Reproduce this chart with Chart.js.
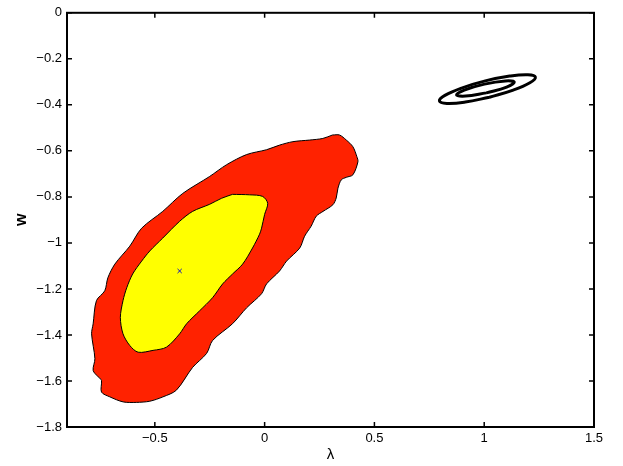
<!DOCTYPE html>
<html><head><meta charset="utf-8">
<script src="https://cdn.jsdelivr.net/npm/chart.js@4.4.1/dist/chart.umd.min.js"></script>
<style>html,body{margin:0;padding:0;background:#fff}#wrap{width:623px;height:466px}</style>
</head><body><div id="wrap"><canvas id="c" width="623" height="466"></canvas></div>
<script>
const xTicks = [-0.5, 0, 0.5, 1, 1.5];
const yTicks = [0, -0.2, -0.4, -0.6, -0.8, -1, -1.2, -1.4, -1.6, -1.8];

// outer (95%) confidence region, red
const regionOuter = [
  [0.309,-0.531],[0.341,-0.531],[0.372,-0.553],[0.402,-0.582],[0.420,-0.625],[0.425,-0.647],
  [0.402,-0.704],[0.372,-0.715],[0.349,-0.726],[0.334,-0.762],[0.326,-0.805],[0.311,-0.834],
  [0.266,-0.863],[0.235,-0.884],[0.212,-0.927],[0.182,-0.971],[0.160,-1.022],[0.100,-1.079],
  [0.068,-1.122],[0.009,-1.178],[-0.014,-1.221],[-0.082,-1.282],[-0.146,-1.351],[-0.237,-1.424],
  [-0.264,-1.480],[-0.328,-1.541],[-0.402,-1.640],[-0.463,-1.669],[-0.523,-1.688],[-0.584,-1.693],
  [-0.644,-1.691],[-0.705,-1.669],[-0.743,-1.648],[-0.743,-1.597],[-0.758,-1.582],[-0.781,-1.554],
  [-0.773,-1.503],[-0.788,-1.395],[-0.781,-1.352],[-0.766,-1.251],[-0.728,-1.208],[-0.714,-1.152],
  [-0.682,-1.092],[-0.614,-1.014],[-0.560,-0.936],[-0.464,-0.863],[-0.373,-0.785],[-0.250,-0.711],
  [-0.173,-0.660],[-0.082,-0.616],[0.009,-0.595],[0.068,-0.575],[0.129,-0.560],[0.205,-0.553],
  [0.265,-0.546],[0.309,-0.531]
];
// inner (68%) confidence region, yellow
const regionInner = [
  [-0.146,-0.789],[-0.068,-0.791],[-0.009,-0.798],[0.014,-0.828],[0.000,-0.876],[-0.014,-0.936],
  [-0.023,-0.962],[-0.055,-1.022],[-0.100,-1.092],[-0.146,-1.135],[-0.191,-1.178],[-0.237,-1.238],
  [-0.296,-1.295],[-0.355,-1.351],[-0.387,-1.395],[-0.447,-1.453],[-0.508,-1.467],[-0.576,-1.475],
  [-0.614,-1.446],[-0.645,-1.395],[-0.657,-1.324],[-0.645,-1.251],[-0.628,-1.195],[-0.601,-1.135],
  [-0.560,-1.079],[-0.523,-1.035],[-0.464,-0.979],[-0.387,-0.906],[-0.328,-0.863],[-0.250,-0.832],
  [-0.196,-0.806],[-0.146,-0.789]
];
// best-fit point
const bestFit = [[-0.387,-1.122]];
// black contour rings, upper right
const ringOuter = [
  [1.024,-0.367],[0.914,-0.388],[0.830,-0.394],[0.796,-0.383],[0.821,-0.359],[0.897,-0.327],
  [1.005,-0.296],[1.116,-0.275],[1.199,-0.269],[1.233,-0.2795],[1.208,-0.304],[1.132,-0.336],
  [1.024,-0.367]
];
const ringInner = [
  [1.010,-0.348],[0.915,-0.362],[0.874,-0.357],[0.909,-0.336],[1.001,-0.310],[1.096,-0.296],
  [1.137,-0.301],[1.102,-0.323],[1.010,-0.348]
];

const pts = a => a.map(p => ({x: p[0], y: p[1]}));
const fmt = v => (v === 0 ? '0' : String(v).replace('-', '\u2212'));
const FONT = 'Liberation Sans, Arial, Helvetica, sans-serif';

const framePlugin = {
  id: 'frame',
  afterDraw(chart) {
    const {ctx, chartArea: a, scales: {x, y}} = chart;
    ctx.save();
    ctx.strokeStyle = '#000';
    ctx.lineWidth = 2;
    ctx.strokeRect(a.left, a.top, a.right - a.left, a.bottom - a.top);
    ctx.lineWidth = 1.5;
    const L = 5;
    ctx.beginPath();
    xTicks.forEach(v => {
      const px = x.getPixelForValue(v);
      ctx.moveTo(px, a.bottom); ctx.lineTo(px, a.bottom - L);
      ctx.moveTo(px, a.top); ctx.lineTo(px, a.top + L);
    });
    yTicks.forEach(v => {
      const py = y.getPixelForValue(v);
      ctx.moveTo(a.left, py); ctx.lineTo(a.left + L, py);
      ctx.moveTo(a.right, py); ctx.lineTo(a.right - L, py);
    });
    ctx.stroke();
    ctx.restore();
  }
};

new Chart(document.getElementById('c'), {
  type: 'scatter',
  data: {
    datasets: [
      {data: pts(bestFit), pointStyle: 'crossRot', pointRadius: 3, borderColor: '#1010c0',
       backgroundColor: '#1010c0', borderWidth: 1, showLine: false, order: 0},
      {data: pts(ringInner), showLine: true, tension: 0.4, borderColor: '#000', borderWidth: 3,
       pointRadius: 0, fill: false, order: 0},
      {data: pts(ringOuter), showLine: true, tension: 0.4, borderColor: '#000', borderWidth: 3,
       pointRadius: 0, fill: false, order: 0},
      {data: pts(regionInner), showLine: true, tension: 0.3, borderColor: '#000', borderWidth: 1,
       backgroundColor: '#ffff00', pointRadius: 0, fill: 'shape', order: 1},
      {data: pts(regionOuter), showLine: true, tension: 0.3, borderColor: '#000', borderWidth: 1,
       backgroundColor: '#ff2200', pointRadius: 0, fill: 'shape', order: 2}
    ]
  },
  options: {
    responsive: false,
    animation: false,
    devicePixelRatio: 1,
    layout: {padding: {top: 10, right: 29, left: 0, bottom: 0}},
    plugins: {legend: {display: false}, tooltip: {enabled: false}},
    scales: {
      x: {
        type: 'linear', min: -0.9, max: 1.5,
        afterBuildTicks: s => { s.ticks = xTicks.map(v => ({value: v})); },
        afterFit: s => { s.height = 39; },
        grid: {display: false, drawTicks: false}, border: {display: false},
        ticks: {callback: fmt, color: '#000', font: {family: FONT, size: 13}, padding: 4,
                maxRotation: 0, autoSkip: false},
        title: {display: true, text: 'λ', color: '#000', font: {family: FONT, size: 15},
                padding: {top: 0, bottom: 2}}
      },
      y: {
        type: 'linear', min: -1.8, max: 0,
        afterBuildTicks: s => { s.ticks = yTicks.map(v => ({value: v})); },
        afterFit: s => { s.width = 67; },
        grid: {display: false, drawTicks: false}, border: {display: false},
        ticks: {callback: fmt, color: '#000', font: {family: FONT, size: 13}, padding: 5,
                autoSkip: false},
        title: {display: true, text: 'w', color: '#000', font: {family: FONT, size: 16, weight: 'bold'},
                padding: {top: 12, bottom: 0}}
      }
    }
  },
  plugins: [framePlugin]
});
</script></body></html>
